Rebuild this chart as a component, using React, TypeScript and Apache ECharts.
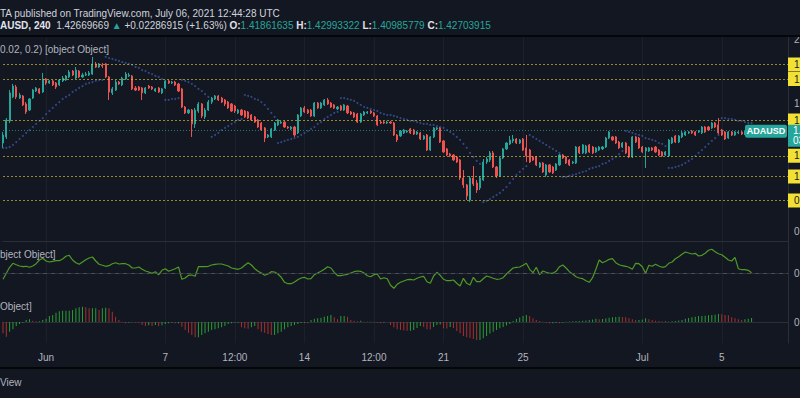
import React, { useEffect, useRef } from "react";
import * as echarts from "echarts";

// ---------- time axis ----------
const firstBarUtc = Date.UTC(2021, 4, 29, 20, 0); // first visible 4h bar
const barHours = 4;
const slotCount = 238; // bars + empty right margin

const tickTimes = [
  "2021-06-01 00:00", "2021-06-07 00:00", "2021-06-10 12:00", "2021-06-14 00:00",
  "2021-06-17 12:00", "2021-06-21 00:00", "2021-06-25 00:00", "2021-07-01 00:00", "2021-07-05 00:00",
];
const tickLabels = ["Jun", "7", "12:00", "14", "12:00", "21", "25", "Jul", "5"];

// ---------- ADAUSD 4h candles [open, close, low, high] ----------
const candles: number[][] = [
  [1.350,1.400,1.319,1.419],[1.388,1.494,1.375,1.506],[1.488,1.663,1.475,1.681],[1.638,1.706,1.631,1.719],
  [1.700,1.638,1.625,1.713],[1.631,1.650,1.625,1.663],[1.644,1.588,1.581,1.650],[1.594,1.544,1.531,1.606],
  [1.556,1.625,1.550,1.631],[1.631,1.681,1.625,1.688],[1.675,1.694,1.669,1.700],[1.688,1.663,1.656,1.694],
  [1.669,1.750,1.663,1.788],[1.750,1.725,1.713,1.756],[1.725,1.738,1.719,1.744],[1.738,1.713,1.706,1.744],
  [1.725,1.700,1.688,1.731],[1.713,1.744,1.706,1.750],[1.738,1.756,1.731,1.769],[1.744,1.769,1.738,1.775],
  [1.763,1.794,1.756,1.806],[1.800,1.775,1.769,1.806],[1.756,1.806,1.750,1.825],[1.800,1.763,1.756,1.806],
  [1.763,1.775,1.756,1.788],[1.775,1.781,1.769,1.794],[1.775,1.788,1.769,1.800],[1.781,1.844,1.775,1.888],
  [1.844,1.825,1.819,1.856],[1.825,1.844,1.819,1.850],[1.838,1.831,1.819,1.850],[1.844,1.763,1.756,1.850],
  [1.763,1.669,1.619,1.769],[1.663,1.688,1.650,1.700],[1.681,1.731,1.675,1.744],[1.731,1.719,1.713,1.738],
  [1.713,1.756,1.706,1.763],[1.750,1.781,1.744,1.794],[1.769,1.775,1.763,1.788],[1.769,1.688,1.681,1.775],
  [1.694,1.681,1.675,1.706],[1.700,1.681,1.675,1.706],[1.694,1.663,1.619,1.700],[1.663,1.694,1.656,1.700],
  [1.706,1.694,1.688,1.713],[1.700,1.688,1.681,1.706],[1.675,1.688,1.669,1.694],[1.694,1.669,1.663,1.700],
  [1.663,1.688,1.656,1.694],[1.694,1.738,1.688,1.744],[1.738,1.725,1.719,1.744],[1.725,1.731,1.719,1.738],
  [1.731,1.713,1.706,1.738],[1.719,1.675,1.669,1.725],[1.688,1.575,1.569,1.694],[1.575,1.538,1.531,1.581],
  [1.538,1.556,1.531,1.563],[1.556,1.469,1.388,1.563],[1.469,1.556,1.444,1.569],[1.550,1.594,1.538,1.606],
  [1.594,1.519,1.506,1.600],[1.513,1.556,1.500,1.569],[1.556,1.606,1.550,1.619],[1.606,1.631,1.594,1.638],
  [1.625,1.644,1.619,1.650],[1.644,1.619,1.613,1.650],[1.631,1.606,1.600,1.638],[1.619,1.594,1.581,1.625],
  [1.606,1.569,1.563,1.613],[1.594,1.550,1.544,1.600],[1.581,1.550,1.538,1.588],[1.538,1.556,1.531,1.563],
  [1.556,1.525,1.519,1.563],[1.550,1.513,1.506,1.556],[1.544,1.506,1.500,1.550],[1.525,1.494,1.488,1.531],
  [1.513,1.481,1.475,1.519],[1.494,1.450,1.444,1.500],[1.475,1.431,1.425,1.481],[1.444,1.381,1.356,1.450],
  [1.388,1.400,1.381,1.406],[1.388,1.438,1.381,1.444],[1.431,1.475,1.425,1.481],[1.463,1.494,1.456,1.500],
  [1.475,1.481,1.469,1.488],[1.481,1.450,1.444,1.488],[1.450,1.444,1.438,1.456],[1.438,1.450,1.431,1.456],
  [1.450,1.400,1.388,1.456],[1.413,1.525,1.406,1.531],[1.519,1.569,1.513,1.575],[1.569,1.544,1.538,1.581],
  [1.556,1.538,1.531,1.563],[1.556,1.519,1.513,1.563],[1.519,1.600,1.513,1.606],[1.600,1.569,1.563,1.606],
  [1.569,1.600,1.563,1.606],[1.588,1.619,1.581,1.625],[1.619,1.594,1.588,1.631],[1.600,1.575,1.569,1.606],
  [1.588,1.569,1.563,1.594],[1.563,1.575,1.556,1.581],[1.581,1.556,1.550,1.588],[1.556,1.588,1.550,1.594],
  [1.581,1.538,1.531,1.588],[1.544,1.531,1.525,1.550],[1.538,1.513,1.506,1.544],[1.531,1.481,1.475,1.538],
  [1.481,1.531,1.475,1.538],[1.525,1.544,1.519,1.550],[1.538,1.544,1.531,1.550],[1.550,1.538,1.531,1.556],
  [1.538,1.519,1.513,1.544],[1.519,1.463,1.456,1.525],[1.481,1.475,1.469,1.488],[1.481,1.475,1.469,1.488],
  [1.475,1.481,1.469,1.488],[1.481,1.475,1.469,1.488],[1.475,1.400,1.394,1.481],[1.400,1.369,1.356,1.406],
  [1.394,1.425,1.388,1.431],[1.413,1.431,1.406,1.438],[1.419,1.425,1.413,1.431],[1.438,1.413,1.406,1.444],
  [1.431,1.406,1.400,1.438],[1.406,1.419,1.400,1.425],[1.413,1.375,1.369,1.419],[1.375,1.394,1.369,1.400],
  [1.400,1.306,1.300,1.406],[1.306,1.388,1.300,1.394],[1.388,1.444,1.381,1.450],[1.438,1.444,1.431,1.450],
  [1.444,1.356,1.350,1.450],[1.363,1.294,1.288,1.369],[1.313,1.275,1.269,1.319],[1.281,1.269,1.263,1.288],
  [1.275,1.244,1.238,1.281],[1.263,1.231,1.225,1.269],[1.244,1.131,1.119,1.250],[1.131,1.088,1.069,1.181],
  [1.088,1.019,0.994,1.094],[0.994,1.131,0.981,1.144],[1.131,1.094,1.081,1.206],[1.100,1.056,1.038,1.119],
  [1.069,1.131,1.056,1.144],[1.119,1.231,1.113,1.250],[1.231,1.250,1.219,1.263],[1.244,1.288,1.231,1.300],
  [1.288,1.200,1.194,1.300],[1.200,1.144,1.131,1.206],[1.144,1.256,1.138,1.263],[1.256,1.313,1.250,1.319],
  [1.313,1.350,1.306,1.356],[1.344,1.369,1.338,1.394],[1.363,1.375,1.350,1.400],[1.375,1.350,1.344,1.381],
  [1.350,1.369,1.344,1.375],[1.375,1.306,1.300,1.381],[1.319,1.269,1.231,1.400],[1.306,1.231,1.225,1.313],
  [1.263,1.244,1.238,1.269],[1.263,1.213,1.206,1.269],[1.200,1.225,1.194,1.231],[1.225,1.169,1.163,1.231],
  [1.150,1.213,1.138,1.219],[1.213,1.169,1.163,1.219],[1.200,1.163,1.156,1.206],[1.181,1.219,1.175,1.225],
  [1.213,1.275,1.206,1.281],[1.275,1.256,1.250,1.281],[1.263,1.225,1.219,1.269],[1.244,1.213,1.206,1.250],
  [1.225,1.231,1.219,1.238],[1.225,1.325,1.219,1.331],[1.325,1.288,1.281,1.331],[1.288,1.338,1.281,1.344],
  [1.288,1.331,1.281,1.338],[1.338,1.294,1.288,1.344],[1.325,1.288,1.281,1.331],[1.294,1.319,1.288,1.325],
  [1.306,1.325,1.300,1.331],[1.313,1.325,1.306,1.331],[1.325,1.381,1.319,1.388],[1.381,1.419,1.375,1.425],
  [1.388,1.369,1.363,1.394],[1.388,1.350,1.344,1.394],[1.356,1.319,1.313,1.363],[1.325,1.350,1.319,1.356],
  [1.350,1.288,1.281,1.356],[1.325,1.263,1.256,1.331],[1.263,1.388,1.256,1.394],[1.388,1.356,1.350,1.394],
  [1.381,1.319,1.313,1.388],[1.325,1.294,1.288,1.331],[1.300,1.319,1.194,1.325],[1.300,1.319,1.294,1.325],
  [1.319,1.306,1.300,1.325],[1.325,1.294,1.288,1.331],[1.306,1.275,1.269,1.313],[1.294,1.269,1.263,1.300],
  [1.275,1.294,1.269,1.300],[1.269,1.369,1.263,1.375],[1.350,1.381,1.344,1.388],[1.394,1.356,1.350,1.400],
  [1.356,1.394,1.350,1.400],[1.388,1.413,1.381,1.425],[1.400,1.419,1.394,1.425],[1.413,1.419,1.406,1.425],
  [1.425,1.413,1.406,1.431],[1.419,1.400,1.394,1.425],[1.419,1.425,1.413,1.431],[1.413,1.450,1.406,1.456],
  [1.450,1.419,1.413,1.456],[1.450,1.431,1.425,1.456],[1.444,1.475,1.438,1.481],[1.475,1.450,1.444,1.481],
  [1.463,1.413,1.406,1.506],[1.431,1.400,1.394,1.438],[1.419,1.375,1.369,1.425],[1.381,1.419,1.375,1.425],
  [1.419,1.400,1.394,1.425],[1.400,1.419,1.394,1.425],[1.413,1.419,1.406,1.425],[1.419,1.406,1.400,1.425],
  [1.406,1.419,1.400,1.425],[1.419,1.4186,1.410,1.425],[1.4186,1.4270,1.4099,1.4299],
];

// ---------- Parabolic SAR (0.02, 0.02, 0.2) ----------
const sar: number[] = [
  1.319,1.319,1.325,1.338,1.356,1.375,1.394,1.413,1.431,1.450,1.469,1.488,1.506,1.531,1.550,1.569,1.588,1.606,1.625,1.638,
  1.650,1.669,1.681,1.694,1.706,1.719,1.725,1.731,1.738,1.744,1.744,1.888,1.881,1.875,1.869,1.863,1.856,1.850,1.844,1.838,
  1.825,1.819,1.806,1.800,1.788,1.781,1.769,1.763,1.750,1.619,1.619,1.625,1.625,1.631,1.744,1.738,1.731,1.719,1.706,1.688,
  1.675,1.656,1.638,1.388,1.400,1.413,1.431,1.444,1.456,1.469,1.481,1.494,1.500,1.650,1.644,1.638,1.625,1.619,1.606,1.588,
  1.563,1.538,1.513,1.350,1.356,1.363,1.369,1.375,1.381,1.388,1.400,1.413,1.425,1.438,1.450,1.469,1.481,1.500,1.513,1.525,
  1.538,1.544,1.631,1.631,1.625,1.619,1.613,1.600,1.588,1.575,1.569,1.563,1.556,1.550,1.538,1.531,1.525,1.525,1.519,1.513,
  1.506,1.500,1.494,1.488,1.488,1.481,1.475,1.469,1.469,1.463,1.463,1.456,1.450,1.444,1.431,1.419,1.406,1.388,1.369,1.344,
  1.319,1.288,1.263,1.238,1.219,0.981,0.988,1.000,1.013,1.025,1.038,1.056,1.075,1.100,1.125,1.150,1.169,1.188,1.206,1.400,
  1.388,1.375,1.363,1.350,1.338,1.325,1.313,1.300,1.288,1.138,1.138,1.144,1.150,1.156,1.163,1.169,1.175,1.188,1.194,1.200,
  1.206,1.219,1.225,1.238,1.250,1.263,1.281,1.300,1.425,1.419,1.413,1.406,1.400,1.394,1.381,1.375,1.369,1.363,1.350,1.344,
  1.331,1.194,1.194,1.200,1.206,1.213,1.225,1.238,1.250,1.269,1.288,1.306,1.325,1.344,1.363,1.381,1.400,1.506,1.506,1.500,
  1.500,1.494,1.488,1.488,1.481,1.475,1.475,
];

// ---------- oscillator pane ----------
const oscillator: number[] = [
  -6.3,-0.3,5.7,9.7,8.3,7,6.3,6.7,5.7,7,9.3,13,14.7,12,11,11.7,12.3,12.3,14,16.7,
  17.7,13,10.3,8.7,11,13.3,15,16,12,8.7,7.7,6.7,7.3,9.3,10.3,9,9.3,9.3,8,5,
  5,6,3.7,2,1,-0.3,1.3,-1.7,2.7,4.3,1.7,3,4.3,6,-6.3,-5,-2.3,-2,-3.3,6.3,
  6.3,6.3,6.7,8,8.7,9,9,8,7,5,4.3,3.7,5,7.7,10.3,8,4.3,1.7,0,-2.3,
  -1,1.3,1,-1,-4.3,-9.3,-10.7,-10.7,-9,-6.7,-5,-4.3,-6,-5.7,-1.7,0,1.7,3.7,6.3,5,
  0.7,-2.7,-2.7,-2,-1.3,0,1.3,2,1.7,0,-2.7,-3.7,-1.7,-1,-6,-4.7,-5.7,-12.3,-15.3,-11.3,
  -9.3,-8,-6.7,-6.3,-7,-5.3,-4,-3.3,-8.7,-10.3,-3,0.7,-2.3,-6.3,-7.7,-7.7,-7,-10.3,-13,-5.3,
  -10.3,-12,-4.3,-8.7,-8.7,-5.7,-3,-4,-5.3,-6.3,-6,-4.7,-1,2,5,5.7,6,7.7,9.7,3.7,
  0.3,5.7,-1.7,2,0.7,-0.3,-0.3,1.7,6.3,8,5,1.3,-1,-3.7,-5,-5.7,-7.7,-9.3,-4.7,3.7,
  13,10.3,11.7,13.7,14.3,10.3,8.3,7.3,6.7,5.7,3.7,9.7,9.3,6.3,-0.3,7.7,6.7,8.7,7,5.7,
  6.3,9.7,11,14.3,16.3,18.7,21,20,19,19.7,17,17.7,19.7,22.7,23.7,21.3,19.3,18.3,15.7,13,
  12,15.7,4.3,3.3,3.3,2.7,0.3,
];

// ---------- histogram pane ----------
const histogram: number[] = [
  -11.3,-14.7,-9.7,-7.3,-4,-2,-0.7,2,2.7,1.3,0.7,0.7,2,3.3,6,7,9.3,10.7,11.3,11.3,
  11.3,12,13.7,14.7,15.3,14.7,13.7,13.7,13.7,12,13.7,14.3,13.7,10.3,5.3,2,0.3,-1.3,-0.7,-0.3,
  -0.5,-0.7,-3,-4,-3.3,-4,-3,-4,-3.3,-2,-1.3,-0.7,-1.3,-1.3,-4.7,-8,-10.7,-13,-15.3,-15.3,
  -13,-11.3,-9.7,-8,-7.3,-6.3,-5.3,-4,-2,-1.3,-0.7,-0.7,-5.3,-6.3,-6.7,-5.3,-4,-7.3,-9.7,-10.7,
  -12,-13,-13,-11.3,-9.7,-7.3,-5.3,-4,-3,-2,-1,-1,-1.3,2,3.3,3.7,4.3,5.3,6,7,
  4.7,2.7,6,6,5.3,2,1.3,0.7,1.3,0.3,0.3,0.3,0.3,-0.7,-1.3,-0.7,0,-3,-5.3,-7.3,
  -8,-8.5,-8.7,-8.7,-8,-6,-4,-5,-7.3,-7.5,-5,-3,-2.5,-6.3,-6.5,-5,-6,-9,-11.3,-14,
  -15.3,-16,-17,-18,-18,-16.3,-14,-11.5,-9.7,-8,-6.3,-5,-3.5,-2,1,3,4.5,6,7,6,
  3.7,2,1,0.3,-0.7,-1.3,-1.3,-1,-1.3,-0.7,0.3,0.5,0.7,1,1,1.3,1.5,2,2.5,3.3,
  2.7,3,3.5,4.3,4.7,5,5.3,5,4.7,3.7,2.7,2,2,2.5,3.7,2.7,2,1.3,1,0.7,
  0.7,0.5,0.7,1,1.5,2,3.3,4,4.7,5.3,6,6,6.3,6.7,7,7.3,8,7.7,7,6.7,
  4.7,3.7,2.7,2,2.7,3.3,4,
];

// ---------- drawn horizontal levels & axis labels ----------
const levels: number[] = [1.8438, 1.75, 1.4875, 1.275, 1.1438, 0.9875];
const priceLabels: number[] = [0.8, 1.6, 2.0];
const countdown = "03:15:32";

const headerLine1 = "TA published on TradingView.com, July 06, 2021 12:44:28 UTC";
const symbolText = "AUSD, 240";
const lastText = "1.42669669";
const changeText = "+0.02286915 (+1.63%)";
const ohlcText = [["O:", "1.41861635"], ["H:", "1.42993322"], ["L:", "1.40985779"], ["C:", "1.42703915"]];

const FONT = '"Liberation Sans", Arial, sans-serif';
const BG = "#131722";
const UP = "#26a69a";
const DOWN = "#ef5350";
const TEXT = "#b2b5be";
const PANE_LINE = "#2a2e39";
const GRID_LINE = "#1c202b";

function fmtTime(ms: number): string {
  const d = new Date(ms);
  const p = (n: number) => String(n).padStart(2, "0");
  return `${d.getUTCFullYear()}-${p(d.getUTCMonth() + 1)}-${p(d.getUTCDate())} ${p(d.getUTCHours())}:00`;
}

export default function App() {
  const ref = useRef<HTMLDivElement>(null);

  useEffect(() => {
    document.body.style.margin = "0";
    document.body.style.background = BG;
    document.body.style.overflow = "hidden";
    if (!ref.current) return;
    const chart = echarts.init(ref.current, null, { renderer: "svg" });

    const categories = Array.from({ length: slotCount }, (_, i) => fmtTime(firstBarUtc + i * barHours * 3600000));
    const tickMap = new Map<string, string>();
    tickTimes.forEach((t, k) => tickMap.set(t, tickLabels[k]));
    const isTick = (_i: number, v: string) => tickMap.has(v);
    const lastClose = candles[candles.length - 1][1];

    const xAxisFor = (g: number) => ({
      type: "category",
      gridIndex: g,
      data: categories,
      boundaryGap: false,
      axisLine: { show: true, lineStyle: { color: PANE_LINE, width: 1 } },
      axisTick: { show: false },
      axisLabel: g === 2
        ? { show: true, interval: isTick, formatter: (v: string) => tickMap.get(v) || "", color: TEXT, fontSize: 10, fontFamily: FONT, margin: 9 }
        : { show: false },
      splitLine: { show: true, interval: isTick, lineStyle: { color: GRID_LINE, width: 1 } },
    });

    const yAxisFor = (g: number, min: number, max: number, labels: number[], digits: number) => ({
      type: "value",
      gridIndex: g,
      position: "right",
      min,
      max,
      scale: true,
      axisLine: { show: true, lineStyle: { color: PANE_LINE } },
      axisTick: { show: false },
      splitLine: { show: false },
      axisLabel: {
        show: true,
        customValues: labels,
        formatter: (v: number) => v.toFixed(digits),
        color: TEXT,
        fontSize: 10,
        fontFamily: FONT,
        margin: 6,
      },
    });

    const levelLines = levels.map((v) => ({
      yAxis: v,
      lineStyle: { color: "rgba(214,200,60,0.65)", type: [2, 2], width: 1 },
      label: {
        show: true,
        position: "end",
        distance: 0,
        formatter: () => v.toFixed(4),
        backgroundColor: "#f2e035",
        color: "#131722",
        fontSize: 10,
        fontFamily: FONT,
        lineHeight: 10,
        padding: [2, 3, 2, 6],
      },
    }));

    const gridBase = { left: 3, right: 12, outerBoundsMode: "none", containLabel: false };

    chart.setOption({
      animation: false,
      backgroundColor: BG,
      textStyle: { fontFamily: FONT },
      grid: [
        { ...gridBase, top: 37, height: 204 },
        { ...gridBase, top: 241, height: 52 },
        { ...gridBase, top: 293, height: 50 },
      ],
      xAxis: [xAxisFor(0), xAxisFor(1), xAxisFor(2)],
      yAxis: [
        yAxisFor(0, 0.7375, 2.0125, priceLabels, 4),
        yAxisFor(1, -20, 32, [0], 4),
        yAxisFor(2, -21, 29, [0], 4),
      ],
      series: [
        {
          type: "candlestick",
          xAxisIndex: 0,
          yAxisIndex: 0,
          data: candles,
          barWidth: 1.6,
          itemStyle: { color: UP, color0: DOWN, borderColor: UP, borderColor0: DOWN, borderWidth: 1 },
          markLine: {
            silent: true,
            symbol: ["none", "none"],
            data: [
              ...levelLines,
              {
                yAxis: lastClose,
                lineStyle: { color: "rgba(38,166,154,0.7)", type: [1, 2], width: 1 },
                label: { show: false },
              },
            ],
          },
        },
        {
          type: "scatter",
          xAxisIndex: 0,
          yAxisIndex: 0,
          data: sar,
          symbol: "circle",
          symbolSize: 2,
          itemStyle: { color: "rgba(70,105,200,0.75)" },
        },
        {
          type: "line",
          xAxisIndex: 1,
          yAxisIndex: 1,
          data: oscillator,
          showSymbol: false,
          lineStyle: { color: "#4f9a24", width: 1.2 },
          markLine: {
            silent: true,
            symbol: ["none", "none"],
            data: [{ yAxis: 0, lineStyle: { color: "#4a4e59", type: [4, 4], width: 1 }, label: { show: false } }],
          },
        },
        {
          type: "bar",
          xAxisIndex: 2,
          yAxisIndex: 2,
          barWidth: 1,
          data: histogram.map((v, i) => ({
            value: v,
            itemStyle: { color: i > 0 && v >= histogram[i - 1] ? "#2a9d34" : "#a8302f" },
          })),
        },
      ],
    });

    const py = chart.convertToPixel({ yAxisIndex: 0 }, lastClose) as number;
    const txt = (x: number, y: number, text: string, fill: string, extra: any = {}) => ({
      type: "text",
      x,
      y,
      z: 100,
      style: { text, fill, font: `10px ${FONT}`, verticalAlign: "middle", align: "left", ...extra },
    });

    const richParts =
      `{b|${symbolText}}  {n|${lastText}} {t|▲} {n|${changeText}} ` +
      ohlcText.map(([k, v]) => `{b|${k}}{v|${v}}`).join(" ");

    chart.setOption({
      graphic: [
        { type: "rect", z: 90, shape: { x: 0, y: 0, width: 800, height: 36 }, style: { fill: BG } },
        { type: "rect", z: 91, shape: { x: 0, y: 35, width: 800, height: 2 }, style: { fill: "#050608" } },
        { type: "rect", z: 90, shape: { x: 0, y: 367, width: 800, height: 31 }, style: { fill: BG } },
        { type: "rect", z: 91, shape: { x: 0, y: 367, width: 800, height: 2 }, style: { fill: "#050608" } },
        txt(0, 13, headerLine1, "#d1d4dc"),
        {
          type: "text",
          x: 0,
          y: 25,
          z: 100,
          style: {
            text: richParts,
            verticalAlign: "middle",
            font: `10px ${FONT}`,
            rich: {
              b: { fill: "#e0e3eb", fontWeight: "bold", fontSize: 10, fontFamily: FONT },
              n: { fill: "#d1d4dc", fontSize: 10, fontFamily: FONT },
              t: { fill: UP, fontSize: 10, fontFamily: FONT },
              v: { fill: UP, fontSize: 10, fontFamily: FONT },
            },
          },
        },
        txt(0, 49, "0.02, 0.2) [object Object]", TEXT),
        txt(0, 254, "bject Object]", TEXT),
        txt(0, 306, "Object]", TEXT),
        txt(0, 382, "View", TEXT),
        // last price tag
        { type: "rect", z: 95, shape: { x: 745, y: py - 6, width: 42, height: 13, r: 2 }, style: { fill: UP } },
        txt(766, py + 0.5, "ADAUSD", "#ffffff", { font: `bold 9px ${FONT}`, align: "center" }),
        { type: "rect", z: 95, shape: { x: 788, y: py - 6, width: 40, height: 22 }, style: { fill: UP } },
        txt(793, py, lastClose.toFixed(4), "#ffffff"),
        txt(793, py + 10, countdown, "#ffffff"),
      ],
    });

    return () => chart.dispose();
  }, []);

  return <div ref={ref} style={{ width: 800, height: 398 }} />;
}
